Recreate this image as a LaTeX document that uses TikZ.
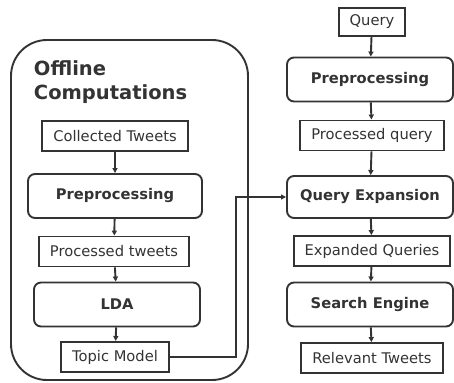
\documentclass[tikz,border=0pt]{standalone}
\usepackage{fontspec}
\setmainfont{DejaVu Sans}
\usetikzlibrary{arrows.meta, positioning}
\definecolor{ink}{HTML}{333333}

\begin{document}
\begin{tikzpicture}[x=1pt, y=-1pt, line width=1.9pt, ink,
    >={Triangle[length=5pt,width=5pt]},
    data/.style={draw, rectangle, inner xsep=11pt, minimum height=30pt,
        font=\fontsize{14.7}{17}\selectfont},
    stage/.style={draw, rounded corners=7pt, minimum width=166pt,
        minimum height=44pt, font=\bfseries\fontsize{14.7}{17}\selectfont}]
    \useasboundingbox (0,0) rectangle (454,382);

    % Offline part
    \node[draw, rounded corners=36pt, minimum width=237pt,
        minimum height=340pt] (offline) at (129.5,210) {};
    \node[anchor=north west, align=left, inner sep=0pt,
        font=\bfseries\fontsize{19.5}{24}\selectfont] (title) at (33,60)
        {Offline\\Computations};

    \node[data] (collected) at (115,136) {Collected Tweets};
    \node[stage, minimum width=174pt] (prepL) at (115,196) {Preprocessing};
    \node[data] (processedL) at (114,251.5) {Processed tweets};
    \node[stage] (lda) at (117,304.5) {LDA};
    \node[data] (topic) at (115,357) {Topic Model};

    % Online part
    \node[data, minimum height=28pt] (query) at (372,22) {Query};
    \node[stage] (prepR) at (370,79.5) {Preprocessing};
    \node[data] (processedR) at (372,135.5) {Processed query};
    \node[stage, minimum height=42pt] (qexp) at (370,197) {Query Expansion};
    \node[data] (expanded) at (372,251) {Expanded Queries};
    \node[stage] (search) at (370,304.5) {Search Engine};
    \node[data] (relevant) at (372,358) {Relevant Tweets};

    % Arrows
    \draw[->] (collected) -- (prepL);
    \draw[->] (prepL) -- (processedL);
    \draw[->] (processedL) -- (lda);
    \draw[->] (lda) -- (topic);

    \draw[->] (query) -- (prepR);
    \draw[->] (prepR) -- (processedR);
    \draw[->] (processedR) -- (qexp);
    \draw[->] (qexp) -- (expanded);
    \draw[->] (expanded) -- (search);
    \draw[->] (search) -- (relevant);

    % Topic model feeds the expansion
    \draw[->] (topic.east) -- ++(66,0) |- (qexp.west);
\end{tikzpicture}
\end{document}
